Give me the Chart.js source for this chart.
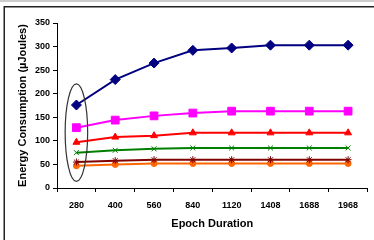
<!DOCTYPE html>
<html>
<head>
<meta charset="utf-8">
<script src="https://cdn.jsdelivr.net/npm/chart.js@4"></script>
<style>
  html, body { margin: 0; padding: 0; background: #fff; }
  canvas { display: block; }
</style>
</head>
<body>
<canvas id="myChart" width="374" height="240"></canvas>
<script>
var epochs = ['280', '400', '560', '840', '1120', '1408', '1688', '1968'];

var seriesBlue = [176, 230, 265, 292, 297, 303, 303, 303];
var seriesMagenta = [128, 144, 153, 159, 163, 163, 163, 163];
var seriesRed = [97, 108, 111, 117, 117, 117, 117, 117];
var seriesGreen = [75, 80, 83, 85, 85, 85, 85, 85];
var seriesDarkRed = [55, 58, 60, 60, 60, 60, 60, 60];
var seriesOrange = [47, 50, 52, 52, 52, 52, 52, 52];

// ellipse round the first category (value range)
var ellipseTop = 221;
var ellipseBottom = 14;

function line(label, data, color, style, radius) {
    return {
        label: label,
        data: data,
        borderColor: color,
        backgroundColor: color,
        borderWidth: 2,
        pointStyle: style,
        pointRadius: radius,
        pointBorderWidth: 1,
        tension: 0
    };
}

var framePlugin = {
    id: 'frame',
    beforeDraw: function (chart) {
        var ctx = chart.ctx;
        ctx.save();
        ctx.strokeStyle = '#bbbbbb';
        ctx.lineWidth = 1.5;
        ctx.beginPath();
        ctx.moveTo(0, 1);
        ctx.lineTo(374, 1);
        ctx.stroke();
        ctx.strokeStyle = '#222';
        ctx.beginPath();
        ctx.moveTo(374, 6.75);
        ctx.lineTo(4.25, 6.75);
        ctx.lineTo(4.25, 240);
        ctx.stroke();
        ctx.restore();
    }
};

var ellipsePlugin = {
    id: 'ellipse',
    afterDatasetsDraw: function (chart) {
        var x = chart.scales.x, y = chart.scales.y;
        var cx = x.getPixelForValue(0);
        var step = x.getPixelForValue(1) - cx;
        var top = y.getPixelForValue(ellipseTop);
        var bottom = y.getPixelForValue(ellipseBottom);
        var ctx = chart.ctx;
        ctx.save();
        ctx.strokeStyle = '#333';
        ctx.lineWidth = 1.2;
        ctx.beginPath();
        ctx.ellipse(cx, (top + bottom) / 2, step * 0.29, (bottom - top) / 2, 0, 0, Math.PI * 2);
        ctx.stroke();
        ctx.restore();
    }
};

const data = {
    labels: epochs,
    datasets: [
        line('S1', seriesBlue, '#000080', 'rectRot', 5),
        line('S2', seriesMagenta, '#ff00ff', 'rect', 5.5),
        line('S3', seriesRed, '#ff0000', 'triangle', 4),
        line('S4', seriesGreen, '#008000', 'crossRot', 3.5),
        line('S5', seriesDarkRed, '#800000', 'star', 3.5),
        line('S6', seriesOrange, '#ff6600', 'circle', 3)
    ]
};

const config = {
    type: 'line',
    data: data,
    plugins: [framePlugin, ellipsePlugin],
    options: {
        responsive: false,
        animation: false,
        layout: { padding: { left: 0, top: 23, right: 2, bottom: 0 } },
        plugins: { legend: { display: false }, tooltip: { enabled: false } },
        font: { family: 'Liberation Sans' },
        scales: {
            x: {
                offset: true,
                grid: { offset: true, drawOnChartArea: false, tickLength: 4, color: '#000' },
                border: { color: '#000', width: 1 },
                ticks: { color: '#000', padding: 8, maxRotation: 0,
                         font: { family: 'Liberation Sans', size: 9, weight: 'bold' } },
                title: { display: true, text: 'Epoch Duration', color: '#000',
                         padding: { top: 0, bottom: 9 },
                         font: { family: 'Liberation Sans', size: 11, weight: 'bold' } },
                afterFit: function (s) { s.height = 52; }
            },
            y: {
                min: 0,
                max: 350,
                grid: { drawOnChartArea: false, tickLength: 4, color: '#000' },
                border: { color: '#000', width: 1 },
                ticks: { stepSize: 50, color: '#000', padding: 3,
                         font: { family: 'Liberation Sans', size: 9, weight: 'bold' } },
                title: { display: true, text: 'Energy Consumption (µJoules)', color: '#000',
                         padding: { top: 16, bottom: 0 },
                         font: { family: 'Liberation Sans', size: 11, weight: 'bold' } },
                afterFit: function (s) { s.width = 57; }
            }
        }
    }
};

const myChart = new Chart(document.getElementById('myChart'), config);
</script>
</body>
</html>
